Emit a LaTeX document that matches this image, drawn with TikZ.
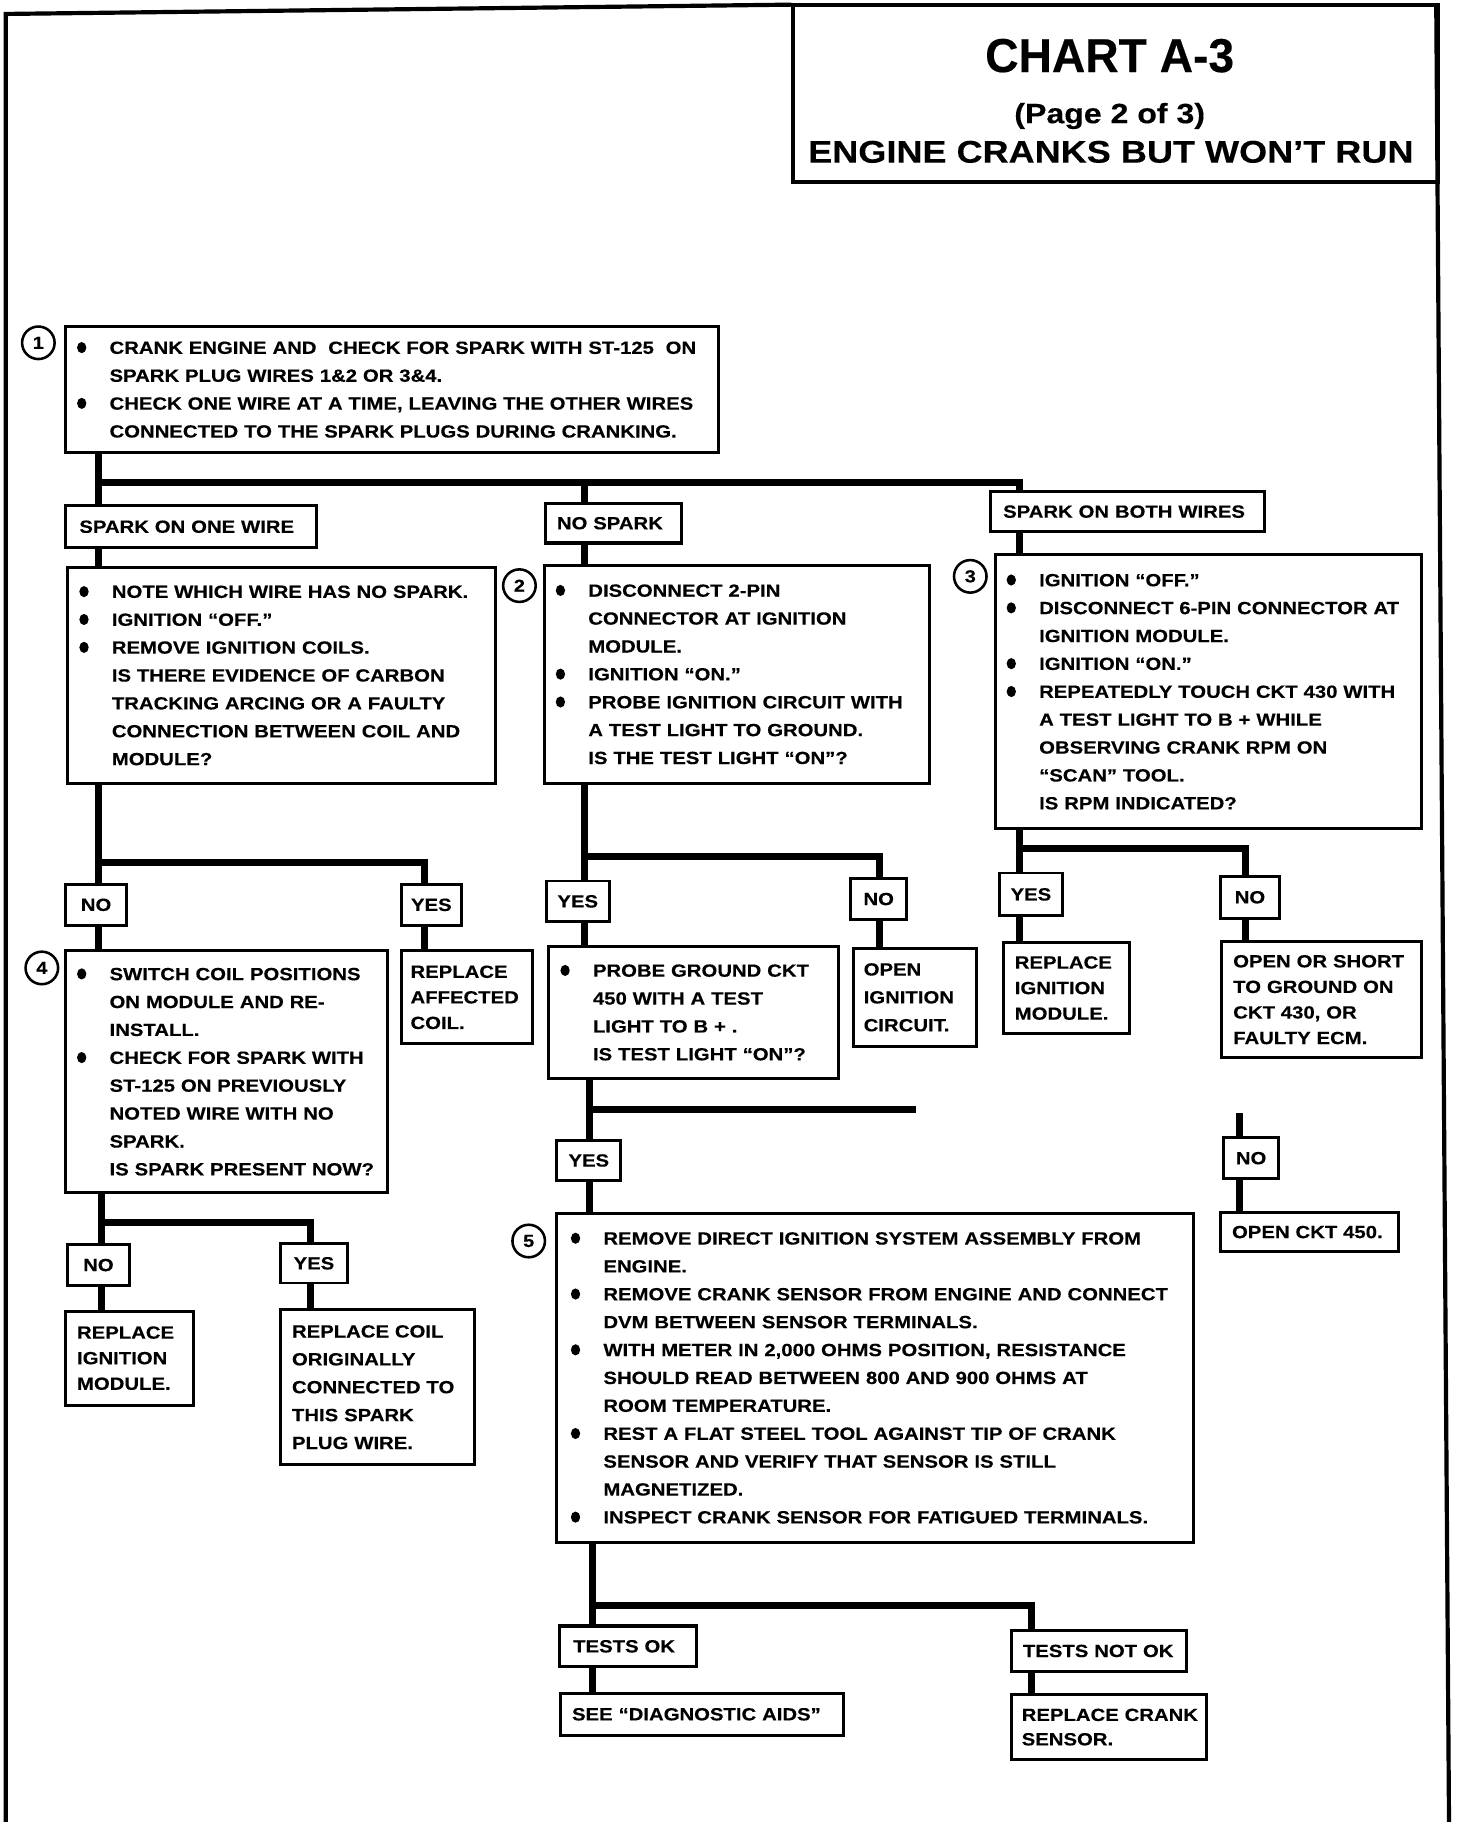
\documentclass[tikz,border=0pt]{standalone}
\usepackage{fontspec}
\setmainfont{Liberation Sans}[FakeStretch=1.15, BoldFeatures={FakeBold=0.3}]
\newfontfamily\titlef{Liberation Sans Bold}[FakeStretch=0.97, FakeBold=0.3]
\newcommand\bodyf{\fontsize{15.2}{24}\selectfont\bfseries}
\newcommand\tightf{\fontsize{15.2}{22}\selectfont\bfseries}
\newcommand\bdot{\tikz[baseline=0pt]\fill (0pt,5.4pt) circle [x radius=4pt, y radius=4.8pt];}
\newcommand\bl[1]{\mbox{\makebox[28pt][l]{\bdot}#1}}
\newcommand\cl[1]{\mbox{\hspace*{28pt}#1}}
\tikzset{
  conn/.style={line width=6pt, line join=miter},
  bx/.style={draw, line width=2.6pt, anchor=north west, inner ysep=0pt, inner xsep=10pt, align=left, font=\bodyf},
  lbl/.style={draw, line width=2.4pt, anchor=north west, inner sep=0pt, align=center, font=\bodyf},
  num/.style={draw, circle, line width=2.2pt, minimum size=28pt, inner sep=0pt, font=\fontsize{15}{15}\selectfont\bfseries},
}
\begin{document}
\begin{tikzpicture}[x=1pt,y=-1pt]
\useasboundingbox (0,0) rectangle (1267,1568);
% frame
\draw[line width=3.6pt, line join=miter] (5,1568) -- (5,12) -- (681,4);
\draw[line width=3.6pt] (1236,3) -- (1247,1568);
% title
\node[draw, line width=3.2pt, anchor=north west, minimum width=555pt, minimum height=152pt, inner sep=0pt] (tb) at (681,3) {};
\node[font=\fontsize{41}{41}\selectfont\titlef, anchor=base] (t1) at (955,62) {CHART A-3};
\node[font=\fontsize{24}{24}\selectfont\bfseries, anchor=base] (t2) at (955,106) {(Page 2 of 3)};
\node[font=\fontsize{27}{27}\selectfont\bfseries, anchor=base] (t3) at (956,140) {ENGINE CRANKS BUT WON’T RUN};

% box 1
\node[bx, text width=542pt, minimum height=108pt] (b1) at (55,280) {\bl{CRANK ENGINE AND\ \ CHECK FOR SPARK WITH ST-125\ \ ON}\\ \cl{SPARK PLUG WIRES 1\&2 OR 3\&4.}\\ \bl{CHECK ONE WIRE AT A TIME, LEAVING THE OTHER WIRES}\\ \cl{CONNECTED TO THE SPARK PLUGS DURING CRANKING.}};
\node[num] (c1) at (33,295) {1};

% first level labels
\node[bx, inner xsep=12pt, text width=192pt, minimum height=36pt] (sow) at (55,434) {SPARK ON ONE WIRE};
\node[bx, text width=97pt, minimum height=34pt] (ns) at (468,432) {NO SPARK};
\node[bx, inner xsep=11pt, text width=214pt, minimum height=34pt] (sbw) at (851,422) {SPARK ON BOTH WIRES};

% second level
\node[bx, text width=348pt, minimum height=186pt] (ba) at (57,487) {\bl{NOTE WHICH WIRE HAS NO SPARK.}\\ \bl{IGNITION “OFF.”}\\ \bl{REMOVE IGNITION COILS.}\\ \cl{IS THERE EVIDENCE OF CARBON}\\ \cl{TRACKING ARCING OR A FAULTY}\\ \cl{CONNECTION BETWEEN COIL AND}\\ \cl{MODULE?}};
\node[bx, text width=312pt, minimum height=188pt] (b2) at (467,485) {\bl{DISCONNECT 2-PIN}\\ \cl{CONNECTOR AT IGNITION}\\ \cl{MODULE.}\\ \bl{IGNITION “ON.”}\\ \bl{PROBE IGNITION CIRCUIT WITH}\\ \cl{A TEST LIGHT TO GROUND.}\\ \cl{IS THE TEST LIGHT “ON”?}};
\node[num] (c2) at (447,504) {2};
\node[bx, text width=347pt, minimum height=236pt] (b3) at (855,476) {\bl{IGNITION “OFF.”}\\ \bl{DISCONNECT 6-PIN CONNECTOR AT}\\ \cl{IGNITION MODULE.}\\ \bl{IGNITION “ON.”}\\ \bl{REPEATEDLY TOUCH CKT 430 WITH}\\ \cl{A TEST LIGHT TO B + WHILE}\\ \cl{OBSERVING CRANK RPM ON}\\ \cl{“SCAN” TOOL.}\\ \cl{IS RPM INDICATED?}};
\node[num] (c3) at (835,496) {3};

% answers under box A
\node[lbl, minimum width=53pt, minimum height=35pt] (n4) at (55,760) {NO};
\node[lbl, minimum width=52pt, minimum height=35pt] (y4) at (344,760) {YES};
\node[bx, text width=257pt, minimum height=208pt] (b4) at (55,817) {\bl{SWITCH COIL POSITIONS}\\ \cl{ON MODULE AND RE-}\\ \cl{INSTALL.}\\ \bl{CHECK FOR SPARK WITH}\\ \cl{ST-125 ON PREVIOUSLY}\\ \cl{NOTED WIRE WITH NO}\\ \cl{SPARK.}\\ \cl{IS SPARK PRESENT NOW?}};
\node[num] (c4) at (36,833) {4};
\node[bx, inner xsep=8pt, text width=97pt, minimum height=80pt, font=\tightf] (rac) at (344,817) {REPLACE\\ AFFECTED\\ COIL.};

% answers under box 2
\node[lbl, minimum width=54pt, minimum height=35pt] (y2) at (469,757) {YES};
\node[lbl, minimum width=48pt, minimum height=35pt] (n2) at (731,755) {NO};
\node[bx, text width=229pt, minimum height=114pt] (bp) at (471,813) {\bl{PROBE GROUND CKT}\\ \cl{450 WITH A TEST}\\ \cl{LIGHT TO B + .}\\ \cl{IS TEST LIGHT “ON”?}};
\node[bx, inner xsep=9pt, text width=88pt, minimum height=84pt] (oic) at (733,815) {OPEN\\ IGNITION\\ CIRCUIT.};

% answers under box 3
\node[lbl, minimum width=54pt, minimum height=37pt] (y3) at (859,750) {YES};
\node[lbl, minimum width=51pt, minimum height=36pt] (n3) at (1049,753) {NO};
\node[bx, text width=89pt, minimum height=78pt, font=\tightf] (rim3) at (862,810) {REPLACE\\ IGNITION\\ MODULE.};
\node[bx, text width=152pt, minimum height=100pt, font=\tightf] (os) at (1050,809) {\mbox{OPEN OR SHORT}\\ \mbox{TO GROUND ON}\\ CKT 430, OR\\ FAULTY ECM.};

% under probe box
\node[lbl, minimum width=55pt, minimum height=35pt] (y5) at (478,980) {YES};
\node[lbl, minimum width=47pt, minimum height=35pt] (n5) at (1052,978) {NO};
\node[bx, text width=133pt, minimum height=34pt] (oc) at (1049,1042) {OPEN CKT 450.};
\node[bx, inner xsep=12pt, text width=524pt, minimum height=283pt] (b5) at (478,1043) {\bl{REMOVE DIRECT IGNITION SYSTEM ASSEMBLY FROM}\\ \cl{ENGINE.}\\ \bl{REMOVE CRANK SENSOR FROM ENGINE AND CONNECT}\\ \cl{DVM BETWEEN SENSOR TERMINALS.}\\ \bl{WITH METER IN 2,000 OHMS POSITION, RESISTANCE}\\ \cl{SHOULD READ BETWEEN 800 AND 900 OHMS AT}\\ \cl{ROOM TEMPERATURE.}\\ \bl{REST A FLAT STEEL TOOL AGAINST TIP OF CRANK}\\ \cl{SENSOR AND VERIFY THAT SENSOR IS STILL}\\ \cl{MAGNETIZED.}\\ \bl{INSPECT CRANK SENSOR FOR FATIGUED TERMINALS.}};
\node[num] (c5) at (455,1068) {5};

% under box 5
\node[bx, inner xsep=12pt, text width=94pt, minimum height=35pt] (tok) at (480,1398) {TESTS OK};
\node[bx, text width=131pt, minimum height=35pt] (tnok) at (869,1402) {\mbox{TESTS NOT OK}};
\node[bx, text width=224pt, minimum height=36pt] (sda) at (481,1456) {\mbox{SEE “DIAGNOSTIC AIDS”}};
\node[bx, inner xsep=9pt, text width=150pt, minimum height=56pt, font=\fontsize{15.2}{21}\selectfont\bfseries] (rcs) at (869,1457) {\mbox{REPLACE CRANK}\\ SENSOR.};

% under box 4
\node[lbl, minimum width=53pt, minimum height=35pt] (n6) at (57,1070) {NO};
\node[lbl, minimum width=58pt, minimum height=34pt] (y6) at (240,1069) {YES};
\node[bx, text width=90pt, minimum height=81pt, font=\tightf] (rim6) at (55,1127) {REPLACE\\ IGNITION\\ MODULE.};
\node[bx, text width=147pt, minimum height=133pt] (rco) at (240,1126) {REPLACE COIL\\ ORIGINALLY\\ \mbox{CONNECTED TO}\\ THIS SPARK\\ PLUG WIRE.};

% ---------- connectors ----------
\coordinate (j1) at (85,415);
\coordinate (j2) at (503,415);
\coordinate (j3) at (877,415);
\draw[conn] (j1 |- b1.south) -- (j1 |- sow.north);
\draw[conn] (j1) -- (j3) -- (j3 |- sbw.north);
\draw[conn] (j2) -- (j2 |- ns.north);
\draw[conn] (j1 |- sow.south) -- (j1 |- ba.north);
\draw[conn] (j2 |- ns.south) -- (j2 |- b2.north);
\draw[conn] (j3 |- sbw.south) -- (j3 |- b3.north);

\coordinate (k1) at (85,742);
\coordinate (k2) at (365,742);
\draw[conn] (k1 |- ba.south) -- (k1 |- n4.north);
\draw[conn] (k1) -- (k2) -- (k2 |- y4.north);
\draw[conn] (k1 |- n4.south) -- (k1 |- b4.north);
\draw[conn] (k2 |- y4.south) -- (k2 |- rac.north);

\coordinate (m1) at (503,737);
\coordinate (m2) at (757,737);
\draw[conn] (m1 |- b2.south) -- (m1 |- y2.north);
\draw[conn] (m1) -- (m2) -- (m2 |- n2.north);
\draw[conn] (m1 |- y2.south) -- (m1 |- bp.north);
\draw[conn] (m2 |- n2.south) -- (m2 |- oic.north);

\coordinate (p1) at (877,730);
\coordinate (p2) at (1072,730);
\draw[conn] (p1 |- b3.south) -- (p1 |- y3.north);
\draw[conn] (p1) -- (p2) -- (p2 |- n3.north);
\draw[conn] (p1 |- y3.south) -- (p1 |- rim3.north);
\draw[conn] (p2 |- n3.south) -- (p2 |- os.north);

\coordinate (q1) at (507,955);
\coordinate (q2) at (788,955);
\coordinate (q3) at (1067,958);
\draw[conn] (q1 |- bp.south) -- (q1 |- y5.north);
\draw[conn] (q1) -- (q2);
\draw[conn] (q1 |- y5.south) -- (q1 |- b5.north);
\draw[conn] (q3) -- (q3 |- n5.north);
\draw[conn] (q3 |- n5.south) -- (q3 |- oc.north);

\coordinate (r1) at (510,1382);
\coordinate (r2) at (888,1382);
\draw[conn] (r1 |- b5.south) -- (r1 |- tok.north);
\draw[conn] (r1) -- (r2) -- (r2 |- tnok.north);
\draw[conn] (r1 |- tok.south) -- (r1 |- sda.north);
\draw[conn] (r2 |- tnok.south) -- (r2 |- rcs.north);

\coordinate (s1) at (87,1052);
\coordinate (s2) at (267,1052);
\draw[conn] (s1 |- b4.south) -- (s1 |- n6.north);
\draw[conn] (s1) -- (s2) -- (s2 |- y6.north);
\draw[conn] (s1 |- n6.south) -- (s1 |- rim6.north);
\draw[conn] (s2 |- y6.south) -- (s2 |- rco.north);
\end{tikzpicture}
\end{document}
